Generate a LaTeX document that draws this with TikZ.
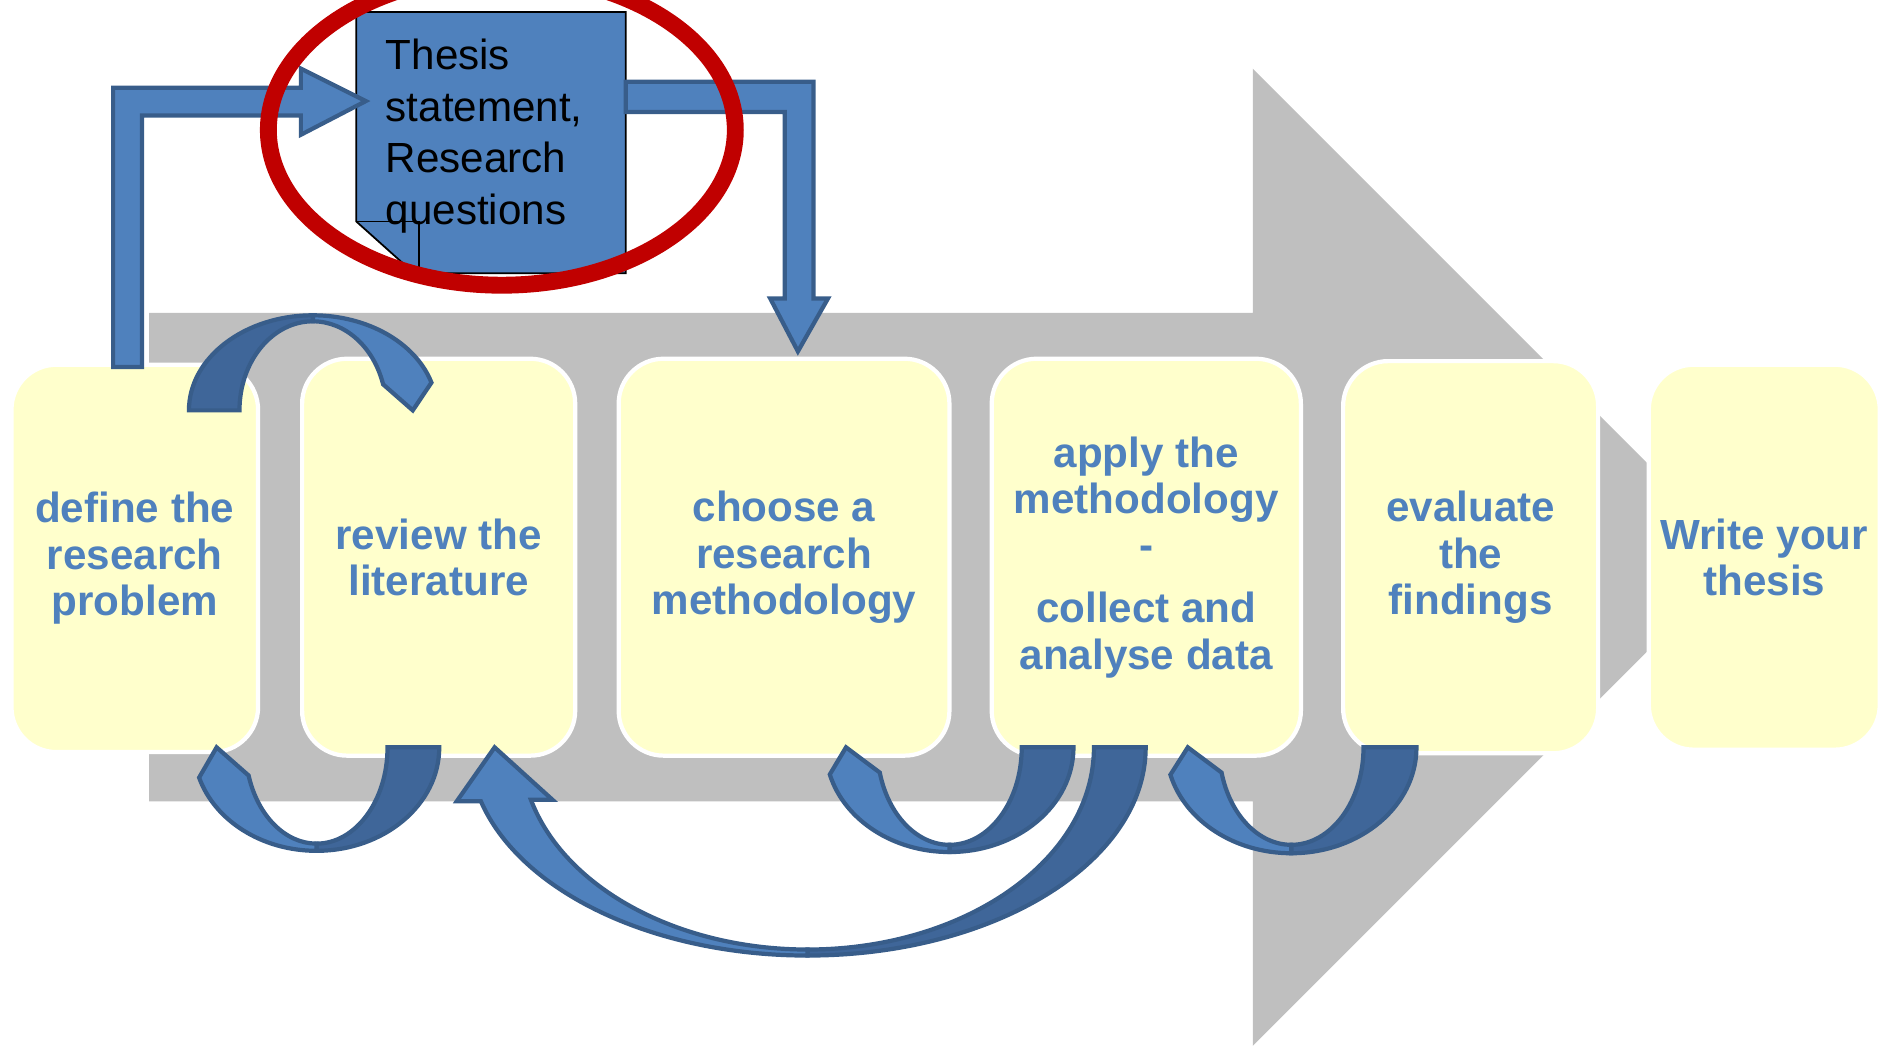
\documentclass[tikz,border=0pt]{standalone}
\usepackage{fontspec}
\setmainfont{Liberation Sans}
\definecolor{greyarrow}{HTML}{BFBFBF}
\definecolor{paleyellow}{HTML}{FFFFCC}
\definecolor{stepblue}{HTML}{4F81BD}
\definecolor{darkblue}{HTML}{3F6699}
\definecolor{edgeblue}{HTML}{385D8A}
\definecolor{ringred}{HTML}{C00000}

\begin{document}
\begin{tikzpicture}[x=0.012034cm, y=0.012034cm,
	stage/.style={rectangle, rounded corners=0.45cm, fill=paleyellow, draw=white, line width=1.2pt, inner sep=0pt, align=center, text=stepblue, font=\bfseries\fontsize{12}{13.2}\selectfont},
	band/.style={fill=stepblue, draw=edgeblue, line width=1.2pt},
	banddark/.style={band, fill=darkblue}]
	\useasboundingbox (0,0) rectangle (1568,869);
	\clip (0,0) rectangle (1568,869);

	% big grey arrow
	\fill[greyarrow] (124,203) -- (124,609) -- (1041,609) -- (1041,812) -- (1447,406) -- (1041,0) -- (1041,203) -- cycle;

	\node[stage, minimum width=2.467cm, minimum height=3.875cm] (define) at (112,405) {define the\\research\\problem};
	\node[stage, minimum width=2.732cm, minimum height=3.971cm] (review) at (364.5,406) {review the\\literature};
	\node[stage, minimum width=3.309cm, minimum height=3.971cm] (choose) at (651.5,406) {choose a\\research\\methodology};
	\node[stage, minimum width=3.093cm, minimum height=3.971cm] (apply) at (952.5,406) {apply the\\methodology\\-\\[4.7pt]collect and\\analyse data};
	\node[stage, minimum width=2.551cm, minimum height=3.923cm] (evaluate) at (1222,406) {evaluate\\the\\findings};
	\node[stage, minimum width=2.311cm, minimum height=3.851cm] (write) at (1466,406) {Write your\\thesis};

	% thesis sheet with folded corner
	\filldraw[fill=stepblue, draw=black, line width=0.5pt] (296,859) -- (520,859) -- (520,642) -- (344,642) -- (296,685) -- cycle;
	\node[anchor=west, align=left, inner sep=0pt, font=\fontsize{12}{14.7}\selectfont] (thesis) at (320,756) {Thesis\\statement,\\Research\\questions};
	\draw[line width=0.5pt] (296,685) -- (348,685) -- (348,644);

	% bent arrows to and from the thesis sheet
	\draw[band] (94,564) -- (94,796) -- (250,796) -- (250,812) -- (304,785) -- (250,757) -- (250,773) -- (118,773) -- (118,564) -- cycle;
	\draw[band] (520,801) -- (676,801) -- (676,621) -- (688,621) -- (663,577) -- (640,621) -- (652,621) -- (652,776) -- (520,776) -- cycle;

	% loops between the steps
	\coordinate (loopA) at (260,528);
	\coordinate (loopB) at (263,248);
	\coordinate (loopC) at (671,248);
	\coordinate (loopD) at (789,248);
	\coordinate (loopE) at (1073,248);

	\begin{scope}[shift={(loopA)}, rotate=180]
		\draw[banddark] (0:103 and 79) arc[start angle=0, end angle=-90, x radius=103, y radius=79] -- (-90:61 and 74) arc[start angle=-90, end angle=0, x radius=61, y radius=74] -- cycle;
		\draw[band] (-90:103 and 79) arc[start angle=-90, end angle=-163, x radius=103, y radius=79] -- (-83,0) -- (-163:61 and 74) arc[start angle=-163, end angle=-90, x radius=61, y radius=74] -- cycle;
	\end{scope}
	\begin{scope}[shift={(loopB)}]
		\draw[banddark] (0:102 and 86) arc[start angle=0, end angle=-90, x radius=102, y radius=86] -- (-90:59 and 80) arc[start angle=-90, end angle=0, x radius=59, y radius=80] -- cycle;
		\draw[band] (-90:102 and 86) arc[start angle=-90, end angle=-163, x radius=102, y radius=86] -- (-83,0) -- (-163:59 and 80) arc[start angle=-163, end angle=-90, x radius=59, y radius=80] -- cycle;
	\end{scope}
	\begin{scope}[shift={(loopC)}]
		\draw[banddark] (0:281 and 173) arc[start angle=0, end angle=-90, x radius=281, y radius=173] -- (-90:238 and 168) arc[start angle=-90, end angle=0, x radius=238, y radius=168] -- cycle;
		\draw[band] (-90:281 and 173) arc[start angle=-90, end angle=-165, x radius=281, y radius=173] -- ++(-20,0) -- (-260,0) -- (-212,-43.5) -- (-165:238 and 168) arc[start angle=-165, end angle=-90, x radius=238, y radius=168] -- cycle;
	\end{scope}
	\begin{scope}[shift={(loopD)}]
		\draw[banddark] (0:103 and 87) arc[start angle=0, end angle=-90, x radius=103, y radius=87] -- (-90:60 and 81) arc[start angle=-90, end angle=0, x radius=60, y radius=81] -- cycle;
		\draw[band] (-90:103 and 87) arc[start angle=-90, end angle=-165, x radius=103, y radius=87] -- (-86,0) -- (-165:60 and 81) arc[start angle=-165, end angle=-90, x radius=60, y radius=81] -- cycle;
	\end{scope}
	\begin{scope}[shift={(loopE)}]
		\draw[banddark] (0:104 and 88) arc[start angle=0, end angle=-90, x radius=104, y radius=88] -- (-90:60 and 81) arc[start angle=-90, end angle=0, x radius=60, y radius=81] -- cycle;
		\draw[band] (-90:104 and 88) arc[start angle=-90, end angle=-165, x radius=104, y radius=88] -- (-86,0) -- (-165:60 and 81) arc[start angle=-165, end angle=-90, x radius=60, y radius=81] -- cycle;
	\end{scope}

	% red ring round the thesis sheet
	\draw[ringred, line width=4.8pt] (417,761) ellipse[x radius=194, y radius=129];
\end{tikzpicture}
\end{document}
